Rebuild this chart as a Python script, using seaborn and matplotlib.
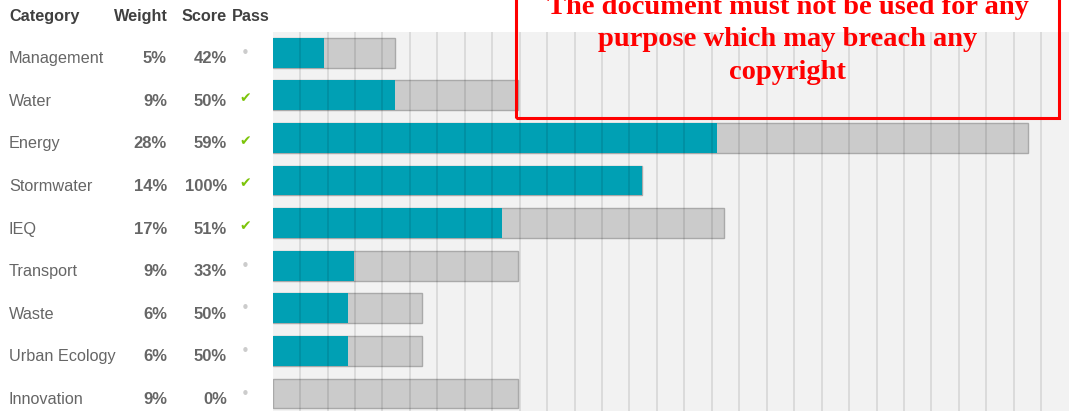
import matplotlib
matplotlib.use("Agg")
import matplotlib.pyplot as plt
from matplotlib.patches import Rectangle
from matplotlib.transforms import blended_transform_factory
import seaborn as sns
import pandas as pd

# ---- data ----
categories = ["Management", "Water", "Energy", "Stormwater", "IEQ",
              "Transport", "Waste", "Urban Ecology", "Innovation"]
weight_labels = ["5%", "9%", "28%", "14%", "17%", "9%", "6%", "6%", "9%"]
score_labels = ["42%", "50%", "59%", "100%", "51%", "33%", "50%", "50%", "0%"]
passed = [False, True, True, True, True, False, False, False, False]
available_pts = [4.45, 8.94, 27.5, 13.45, 16.46, 8.94, 5.46, 5.46, 8.94]
achieved_pts = [1.86, 4.47, 16.2, 13.45, 8.36, 2.96, 2.74, 2.74, 0.0]
header_labels = ["Category", "Weight", "Score", "Pass"]
notice_lines = ["The document must not be used for any",
                "purpose which may breach any",
                "copyright"]

W, H = 1073, 411
fig = plt.figure(figsize=(W / 100, H / 100), dpi=100)
fig.patch.set_facecolor("white")

ax_left, ax_right, ax_top = 272.6, 1068.7, 32
ax = fig.add_axes([ax_left / W, 0, (ax_right - ax_left) / W, (H - ax_top) / H])
ax.set_facecolor("#f2f2f2")

df = pd.DataFrame({"cat": categories, "avail": available_pts, "ach": achieved_pts})

sns.barplot(data=df, x="avail", y="cat", orient="h", color="#cbcbcb",
            saturation=1, width=0.7, edgecolor="#a9a9a9", linewidth=1.0,
            ax=ax, zorder=1)
sns.barplot(data=df, x="ach", y="cat", orient="h", color="#00a0b4",
            saturation=1, width=0.7, linewidth=0, ax=ax, zorder=1.5)

ax.set_xlim(0, 29)
ax.set_ylim(8.41, -0.486)
ax.set_xticks(range(1, 29))
ax.set_yticks([])
ax.tick_params(axis="x", length=0, labelbottom=False)
ax.set_xlabel("")
ax.set_ylabel("")
ax.grid(axis="x", color="black", alpha=0.10, linewidth=1.3)
ax.grid(axis="y", visible=False)
ax.set_axisbelow(False)
for s in ax.spines.values():
    s.set_visible(False)

# ---- table text ----
font = "Liberation Sans"
tr = blended_transform_factory(fig.transFigure, ax.transData)
row_px = 42.6
for i, cat in enumerate(categories):
    yb = i + 10.5 / row_px
    fig.text(9 / W, yb, cat, transform=tr, ha="left", va="baseline",
             fontsize=11.7, color="#666666", family=font)
    fig.text(167 / W, yb, weight_labels[i], transform=tr, ha="right", va="baseline",
             fontsize=12, color="#666666", family=font, fontweight="bold")
    fig.text(227 / W, yb, score_labels[i], transform=tr, ha="right", va="baseline",
             fontsize=12, color="#666666", family=font, fontweight="bold")
    if passed[i]:
        fig.text(245 / W, i + 3 / row_px, "\u2714", transform=tr, ha="center",
                 va="center", fontsize=10, color="#7cc40a", family="DejaVu Sans")
    else:
        fig.text(245 / W, i + 0.5 / row_px, "\u2022", transform=tr, ha="center",
                 va="center", fontsize=11, color="#cccccc", family="DejaVu Sans")

hy = 1 - 21 / H
fig.text(9 / W, hy, header_labels[0], ha="left", va="baseline", fontsize=11.7,
         color="#404040", family=font, fontweight="bold")
fig.text(168 / W, hy, header_labels[1], ha="right", va="baseline", fontsize=11.7,
         color="#404040", family=font, fontweight="bold")
fig.text(227 / W, hy, header_labels[2], ha="right", va="baseline", fontsize=11.7,
         color="#404040", family=font, fontweight="bold")
fig.text(232 / W, hy, header_labels[3], ha="left", va="baseline", fontsize=11.7,
         color="#404040", family=font, fontweight="bold")

# ---- copyright notice box ----
fig.add_artist(Rectangle((516 / W, 1 - 118 / H), (1059 - 516) / W, 130 / H,
                         transform=fig.transFigure, fill=False,
                         edgecolor="#ff0000", linewidth=2.2, zorder=10))
for k, line in enumerate(notice_lines):
    fig.text(787.5 / W, 1 - (14.5 + 32 * k) / H, line, ha="center", va="baseline",
             fontsize=20.5, color="#ff0000", family="Liberation Serif",
             fontweight="bold", zorder=11)

fig.savefig("out.png", dpi=100, facecolor="white")
